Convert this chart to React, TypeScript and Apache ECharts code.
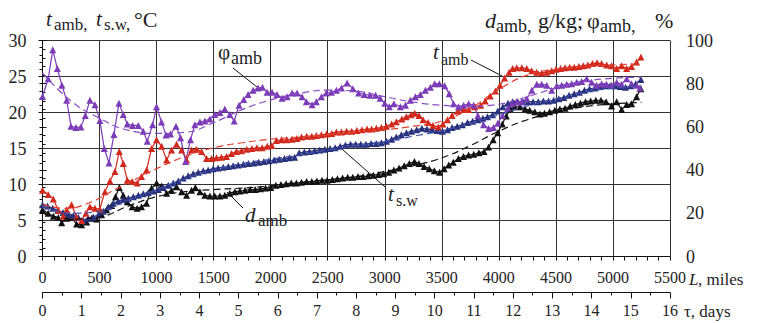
import React, { useEffect, useRef } from "react";
import * as echarts from "echarts";

// ---- data (L in miles, value) ----
const phiAmb: [number, number][] = [
[0,74.1],[50,82.3],[90,95.7],[130,87.0],[170,79.3],[212,72.3],[250,60.3],[293,59.7],[337,60.0],[375,65.3],[416,72.3],[460,70.3],[503,63.0],[541,50.0],[583,43.3],[626,56.5],[670,71.0],[708,65.7],[743,61.3],[790,60.7],[840,60.7],[883,58.0],[918,53.3],[965,61.0],[1000,69.3],[1043,62.3],[1082,56.3],[1122,56.7],[1170,60.3],[1210,55.0],[1254,44.0],[1297,54.0],[1335,61.0],[1380,62.3],[1423,62.7],[1467,63.7],[1510,65.7],[1555,66.7],[1598,68.3],[1642,65.7],[1680,62.7],[1723,70.0],[1764,72.7],[1802,75.0],[1846,77.0],[1890,78.0],[1928,78.3],[1969,76.0],[2012,76.0],[2056,75.0],[2100,73.3],[2144,74.0],[2188,75.7],[2232,75.7],[2275,74.0],[2313,71.7],[2363,70.3],[2400,71.7],[2445,74.0],[2488,75.7],[2532,76.0],[2576,77.0],[2620,78.0],[2670,80.3],[2720,77.7],[2770,75.7],[2820,75.0],[2870,74.7],[2920,74.7],[2960,73.3],[3000,71.0],[3040,69.3],[3080,70.7],[3137,69.3],[3181,70.0],[3224,72.3],[3268,74.0],[3312,75.0],[3356,77.0],[3400,78.3],[3437,80.0],[3478,80.0],[3525,79.0],[3565,75.3],[3603,70.7],[3647,69.3],[3691,70.0],[3735,70.7],[3778,70.0],[3816,65.3],[3866,61.0],[3910,59.3],[3953,59.7],[3991,61.7],[4032,65.3],[4079,68.7],[4114,70.7],[4157,71.7],[4200,71.7],[4245,73.0],[4289,77.0],[4332,79.7],[4376,79.7],[4420,79.3],[4463,77.0],[4507,79.0],[4551,79.3],[4595,79.7],[4638,80.0],[4682,80.7],[4726,81.0],[4770,82.3],[4813,80.7],[4857,79.3],[4901,80.0],[4944,79.7],[4988,79.3],[5032,80.7],[5076,79.7],[5120,82.3],[5163,80.0],[5207,79.3],[5236,78.0]
];

const tAmb: [number, number][] = [
[0,9.2],[50,8.6],[95,8.0],[139,6.4],[182,5.6],[212,6.5],[255,7.2],[299,5.5],[343,5.0],[380,6.0],[416,6.9],[460,6.7],[503,6.6],[547,9.0],[591,10.5],[635,11.8],[673,14.6],[708,12.9],[743,10.6],[786,10.4],[830,10.2],[868,11.1],[912,12.0],[956,15.0],[1000,16.2],[1044,15.3],[1088,13.4],[1131,14.8],[1175,15.6],[1219,14.8],[1263,13.4],[1306,14.8],[1350,14.9],[1394,14.6],[1438,13.6],[1482,13.6],[1525,13.7],[1569,13.8],[1613,13.9],[1657,14.3],[1700,14.6],[1745,14.7],[1790,14.9],[1835,15.0],[1880,15.1],[1925,15.1],[1970,15.3],[2010,15.4],[2050,16.1],[2095,16.2],[2140,16.2],[2185,16.3],[2230,16.4],[2270,16.6],[2315,16.7],[2360,16.7],[2400,16.8],[2445,16.9],[2490,17.0],[2535,17.1],[2576,17.3],[2620,17.3],[2665,17.4],[2710,17.4],[2755,17.5],[2800,17.6],[2845,17.7],[2885,17.7],[2926,17.8],[2970,17.9],[3014,18.1],[3060,18.4],[3101,18.7],[3150,19.1],[3189,19.4],[3230,19.7],[3262,19.9],[3300,19.6],[3335,19.0],[3380,18.6],[3422,18.2],[3470,18.0],[3510,18.4],[3550,19.0],[3590,19.6],[3640,20.2],[3690,20.4],[3735,20.4],[3790,20.8],[3840,21.0],[3880,21.6],[3924,22.3],[3970,23.0],[4010,23.8],[4050,24.8],[4090,25.6],[4120,26.1],[4157,26.2],[4201,26.2],[4245,26.1],[4288,25.8],[4332,25.6],[4376,25.5],[4420,25.6],[4463,25.8],[4500,26.0],[4540,26.1],[4580,26.2],[4620,26.3],[4660,26.3],[4700,26.4],[4740,26.5],[4780,26.6],[4820,26.8],[4860,26.9],[4900,26.8],[4945,26.6],[4988,26.5],[5032,26.1],[5076,26.5],[5120,26.1],[5163,26.4],[5207,27.0],[5245,27.7]
];

const tSw: [number, number][] = [
[0,7.2],[45,7.0],[90,6.7],[135,6.4],[180,6.1],[225,5.9],[270,5.7],[315,5.4],[357,5.0],[400,5.3],[445,5.5],[490,5.8],[533,6.3],[577,6.9],[620,7.4],[664,7.7],[708,7.9],[752,8.1],[796,8.3],[840,8.5],[883,8.7],[927,8.9],[971,9.1],[1015,9.3],[1058,9.6],[1102,9.9],[1146,10.2],[1190,10.5],[1233,10.9],[1277,11.2],[1321,11.5],[1365,11.7],[1409,11.9],[1452,12.0],[1496,12.2],[1540,12.3],[1584,12.4],[1628,12.5],[1671,12.6],[1715,12.7],[1760,12.8],[1805,12.9],[1850,13.0],[1895,13.1],[1940,13.2],[1985,13.3],[2030,13.4],[2075,13.5],[2120,13.6],[2165,13.7],[2210,13.8],[2250,14.4],[2295,14.5],[2340,14.6],[2385,14.7],[2430,14.8],[2475,14.9],[2520,15.0],[2565,15.1],[2610,15.3],[2655,15.5],[2700,15.6],[2745,15.6],[2790,15.6],[2835,15.6],[2880,15.7],[2925,15.7],[2970,15.8],[3015,16.0],[3060,16.3],[3100,16.6],[3145,16.9],[3190,17.2],[3235,17.4],[3280,17.6],[3325,17.8],[3370,17.7],[3415,17.6],[3460,17.5],[3505,17.4],[3550,17.6],[3590,17.9],[3635,18.1],[3680,18.3],[3725,18.6],[3770,18.8],[3815,19.0],[3860,19.2],[3900,19.4],[3945,19.7],[3990,20.2],[4035,20.8],[4080,21.3],[4120,21.5],[4165,21.5],[4210,21.5],[4255,21.5],[4300,21.5],[4345,21.5],[4390,21.6],[4435,21.6],[4480,21.7],[4525,21.9],[4570,22.1],[4615,22.4],[4660,22.6],[4705,22.8],[4750,23.1],[4795,23.3],[4840,23.4],[4885,23.6],[4930,23.7],[4975,23.7],[5020,23.7],[5065,23.6],[5110,23.5],[5155,23.7],[5200,24.0],[5245,24.6]
];

const dAmb: [number, number][] = [
[0,6.5],[50,6.0],[95,5.6],[139,5.4],[168,4.7],[212,5.3],[255,5.4],[299,4.5],[343,4.4],[387,4.8],[430,5.3],[474,5.2],[518,5.8],[562,6.5],[606,7.1],[640,8.3],[673,9.6],[708,8.5],[743,7.6],[786,6.9],[830,6.7],[868,6.9],[912,7.4],[956,9.5],[1000,10.2],[1044,9.8],[1088,8.8],[1131,9.2],[1175,9.7],[1219,9.0],[1263,8.5],[1306,9.2],[1340,9.6],[1380,9.0],[1423,8.5],[1467,8.4],[1510,8.4],[1555,8.4],[1598,8.5],[1642,8.8],[1686,9.0],[1730,9.1],[1775,9.2],[1820,9.3],[1865,9.3],[1910,9.4],[1955,9.5],[2000,9.6],[2045,9.9],[2090,10.0],[2135,10.1],[2180,10.2],[2225,10.2],[2270,10.3],[2315,10.4],[2360,10.4],[2405,10.5],[2450,10.6],[2495,10.6],[2540,10.7],[2585,10.8],[2630,10.9],[2675,11.0],[2720,11.0],[2765,11.1],[2810,11.1],[2855,11.2],[2900,11.3],[2945,11.4],[2990,11.5],[3035,11.7],[3080,12.0],[3125,12.3],[3170,12.6],[3215,12.9],[3260,13.2],[3300,12.9],[3345,12.5],[3390,12.2],[3435,11.9],[3480,11.7],[3520,12.2],[3560,12.7],[3600,13.1],[3645,13.6],[3690,13.9],[3735,14.1],[3780,14.2],[3825,14.4],[3870,14.6],[3910,15.2],[3950,16.2],[3990,17.2],[4030,18.4],[4065,19.5],[4100,20.5],[4140,20.8],[4185,20.8],[4230,20.5],[4270,20.3],[4315,20.1],[4360,19.8],[4400,19.9],[4445,20.1],[4490,20.3],[4535,20.5],[4580,20.6],[4625,20.9],[4670,21.1],[4715,21.3],[4760,21.5],[4805,21.6],[4850,21.7],[4895,21.7],[4940,21.5],[4988,20.9],[5032,21.5],[5076,20.4],[5120,21.1],[5163,21.2],[5207,22.2],[5245,23.3]
];

// dashed trend curves
const phiTrend: [number, number][] = [[0,85],[250,72],[500,64],[750,58.5],[1000,57],[1250,57.5],[1500,62],[1750,68],[2000,72.5],[2250,75.5],[2500,77],[2750,76.5],[3000,74],[3250,71.5],[3500,70],[3750,69.5],[4000,70.5],[4250,74],[4500,78],[4750,81],[5000,82.5],[5250,83]];
const tAmbTrend: [number, number][] = [[0,7.2],[200,6.7],[400,7.4],[600,9.0],[800,10.6],[1000,12.2],[1250,13.9],[1500,15.1],[1750,15.8],[2000,16.3],[2250,16.6],[2500,16.9],[2750,17.2],[3000,17.6],[3250,18.1],[3500,18.8],[3750,20.6],[4000,23.2],[4250,25.2],[4500,26.0],[4750,26.4],[5000,26.6],[5250,26.8]];
const tSwTrend: [number, number][] = [[0,7.0],[250,6.0],[500,6.3],[750,7.8],[1000,9.3],[1250,10.8],[1500,12.0],[1750,12.9],[2000,13.5],[2250,14.1],[2500,14.8],[2750,15.4],[3000,16.0],[3250,16.7],[3500,17.5],[3750,18.5],[4000,19.7],[4250,20.9],[4500,21.9],[4750,22.8],[5000,23.4],[5250,23.8]];
const dAmbTrend: [number, number][] = [[0,6.0],[250,5.2],[500,5.5],[750,7.0],[1000,8.3],[1250,9.0],[1500,9.3],[1750,9.5],[2000,9.8],[2250,10.2],[2500,10.6],[2750,11.1],[3000,11.8],[3250,12.6],[3500,13.7],[3750,15.4],[4000,17.4],[4250,19.0],[4500,20.1],[4750,20.8],[5000,21.2],[5250,21.4]];

const FONT = "Liberation Serif";
const C_RED = "#d2291d";
const C_BLUE = "#28327f";
const C_BLACK = "#111111";
const C_PURPLE = "#7c3cb8";

function txt(x: number, y: number, text: string, size: number, italic = false) {
  return {
    type: "text",
    x,
    y,
    silent: true,
    style: {
      text,
      fill: "#222",
      fontSize: size,
      fontFamily: FONT,
      fontStyle: italic ? "italic" : "normal",
      align: "left",
      verticalAlign: "middle",
      textAlign: "left",
      textVerticalAlign: "middle",
    },
  };
}
function lead(x1: number, y1: number, x2: number, y2: number) {
  return { type: "line", silent: true, shape: { x1, y1, x2, y2 }, style: { stroke: "#111", lineWidth: 1 } };
}

function mainSeries(name: string, data: [number, number][], color: string, yAxisIndex: number) {
  return {
    name,
    type: "line",
    data,
    yAxisIndex,
    symbol: "triangle",
    symbolSize: 7,
    lineStyle: { color, width: 1.2 },
    itemStyle: { color },
    z: 3,
  };
}
function trendSeries(name: string, data: [number, number][], color: string, yAxisIndex: number) {
  return {
    name,
    type: "line",
    data,
    yAxisIndex,
    smooth: true,
    showSymbol: false,
    symbol: "none",
    lineStyle: { color, width: 1.2, type: [7, 4] },
    z: 4,
  };
}

function serifLabel(size: number, margin: number) {
  return {
    margin,
    color: "#222",
    fontFamily: FONT,
    fontSize: size,
    formatter: (v: number) => "{s|" + String(v) + "}",
    rich: { s: { fontFamily: FONT, fontSize: size, color: "#222" } },
  };
}

export default function App() {
  const ref = useRef<HTMLDivElement>(null);
  useEffect(() => {
    document.body.style.margin = "0";
    const chart = echarts.init(ref.current!, null, { renderer: "svg" });
    chart.setOption({
      animation: false,
      backgroundColor: "#fff",
      textStyle: { fontFamily: FONT },
      grid: { left: 42.5, right: 87, top: 40.5, bottom: 66.5, containLabel: false },
      xAxis: [
        {
          type: "value",
          min: 0,
          max: 5500,
          interval: 500,
          position: "bottom",
          axisLine: { show: true, onZero: false, lineStyle: { color: "#111", width: 1 } },
          axisTick: { show: true, length: 4, lineStyle: { color: "#111" } },
          minorTick: { show: true, splitNumber: 5, length: 4, lineStyle: { color: "#111" } },
          splitLine: { show: true, lineStyle: { color: "#333", width: 1 } },
          axisLabel: serifLabel(16, 13),
        },
        {
          type: "value",
          min: 0,
          max: 16,
          interval: 1,
          position: "bottom",
          offset: 36,
          axisLine: { show: true, onZero: false, lineStyle: { color: "#111", width: 1 } },
          axisTick: { show: true, length: 6, lineStyle: { color: "#111" } },
          minorTick: { show: true, splitNumber: 2, length: 3, lineStyle: { color: "#111" } },
          splitLine: { show: false },
          axisLabel: serifLabel(16, 10),
        },
      ],
      yAxis: [
        {
          type: "value",
          min: 0,
          max: 30,
          interval: 5,
          position: "left",
          axisLine: { show: true, lineStyle: { color: "#111", width: 1 } },
          axisTick: { show: true, length: 4, lineStyle: { color: "#111" } },
          minorTick: { show: true, splitNumber: 5, length: 3, lineStyle: { color: "#111" } },
          splitLine: { show: true, lineStyle: { color: "#333", width: 1 } },
          axisLabel: serifLabel(18, 16),
        },
        {
          type: "value",
          min: 0,
          max: 100,
          interval: 20,
          position: "right",
          axisLine: { show: true, lineStyle: { color: "#111", width: 1 } },
          axisTick: { show: true, length: 4, lineStyle: { color: "#111" } },
          minorTick: { show: true, splitNumber: 5, length: 3, lineStyle: { color: "#111" } },
          splitLine: { show: false },
          axisLabel: serifLabel(18, 16),
        },
      ],
      series: [
        mainSeries("d_amb", dAmb, C_BLACK, 0),
        mainSeries("t_s.w", tSw, C_BLUE, 0),
        mainSeries("t_amb", tAmb, C_RED, 0),
        mainSeries("φ_amb", phiAmb, C_PURPLE, 1),
        trendSeries("d_amb trend", dAmbTrend, "#111", 0),
        trendSeries("t_s.w trend", tSwTrend, "#3d4fa8", 0),
        trendSeries("t_amb trend", tAmbTrend, "#e2402f", 0),
        trendSeries("φ_amb trend", phiTrend, "#8a4cc6", 1),
      ],
      graphic: [
        // left axis title
        txt(46, 19, "t", 21, true),
        txt(54, 24.5, "amb,", 17),
        txt(96, 19, "t", 21, true),
        txt(104, 24.5, "s.w,", 17),
        txt(134, 19, "°C", 22),
        // right axis title
        txt(485, 20, "d", 22, true),
        txt(496, 25.5, "amb,", 18),
        txt(538, 20, "g/kg;", 22),
        txt(587, 20, "φ", 22),
        txt(600, 25.5, "amb,", 18),
        txt(655, 20, "%", 22),
        // φ_amb label
        txt(218, 51.5, "φ", 21),
        txt(231, 57.5, "amb", 18),
        lead(233, 68, 257, 87),
        // t_amb label
        txt(433, 51.5, "t", 21, true),
        txt(441, 59.5, "amb", 16),
        lead(471, 60, 506, 78),
        // t_s.w label
        txt(388, 193.5, "t", 21, true),
        txt(396, 200.5, "s.w", 16),
        lead(343, 150, 385, 187),
        // d_amb label
        txt(245, 214.5, "d", 21, true),
        txt(258, 220.5, "amb", 17),
        lead(227, 192, 243, 208),
        // axis names
        txt(689, 279.5, "L", 17, true),
        txt(698, 279.5, ", miles", 17),
        txt(684, 311, "τ, days", 17),
      ],
    });
    return () => chart.dispose();
  }, []);
  return <div ref={ref} style={{ width: 757, height: 323 }} />;
}
